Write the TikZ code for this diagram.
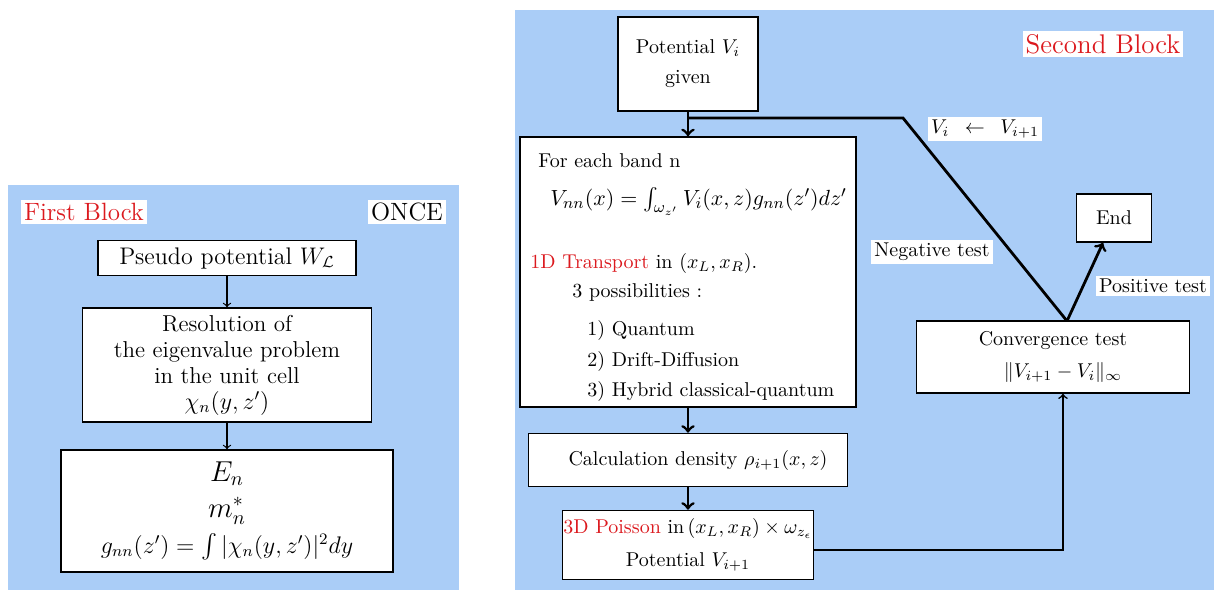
\documentclass[tikz,border=0pt]{standalone}
\usepackage{amsmath}
\usepackage{amssymb}
\usetikzlibrary{positioning, arrows}
\definecolor{panelblue}{RGB}{170,205,247}
\definecolor{blockred}{RGB}{220,25,30}
\tikzset{
	>=to, % plain arrow heads
	node distance=50pt, % distance between the centres of two nodes
	box/.style={draw, thick, fill=white, align=center, inner sep=2pt}, % every white box
	tag/.style={fill=white, inner sep=1.5pt}, % labels on white ground
	rowtext/.style={anchor=base west, inner sep=0pt}, % one line inside the band box
	loopline/.style={line width=1.4pt}, % the heavy lines of the second block
}

\begin{document}
\begin{tikzpicture}[x=0.5pt, y=-0.5pt]
	\useasboundingbox (0,0) rectangle (1216,590);
	% the two blocks
	\fill[panelblue] (8,185) rectangle (459,590);
	\fill[panelblue] (515,10) rectangle (1214,590);

	% first block
	\node[tag, font=\fontsize{12.5}{14}\selectfont, text=blockred] (first) at (84,212) {First Block};
	\node[tag, font=\fontsize{12.5}{14}\selectfont] (once) at (407,212) {ONCE};
	\node[box, minimum width=129pt, minimum height=17.5pt, font=\large] (pseudo) at (227,258) {Pseudo potential $W_{\mathcal{L}}$};
	\node[box, below of=pseudo, node distance=53.5pt, minimum width=144.5pt, minimum height=57pt, font=\fontsize{11.5}{13}\selectfont] (resol) {Resolution of\\ the eigenvalue problem\\ in the unit cell\\ $\chi_n(y,z')$};
	\node[box, below of=resol, node distance=73pt, minimum width=166pt, minimum height=61pt, font=\fontsize{12}{18}\selectfont] (eigen) {{\Large $E_n$}\\ {\Large $m_n^*$}\\ $g_{nn}(z')=\int|\chi_n(y,z')|^2dy$};
	\draw[->, semithick] (pseudo) -- (resol);
	\draw[->, semithick] (resol) -- (eigen);

	% second block
	\node[tag, font=\fontsize{13.5}{15}\selectfont, text=blockred] (second) at (1103,44) {Second Block};
	\node[box, minimum width=70pt, minimum height=47pt, font=\fontsize{10}{15}\selectfont] (pot) at (688,64) {Potential $V_i$\\ given};
	\node[box, below of=pot, node distance=104pt, minimum width=168pt, minimum height=135pt] (band) {};
	\node[rowtext] (each) at (538,167) {For each band n};
	\node[rowtext, font=\fontsize{11}{13}\selectfont] (vnn) at (550,205) {$V_{nn}(x)=\int_{\omega_{z'}}V_i(x,z)g_{nn}(z')dz'$};
	\node[rowtext] (trans) at (530,268) {{\color{blockred}1D Transport} in $(x_L,x_R)$.};
	\node[rowtext] (poss) at (572,297) {3 possibilities :};
	\node[rowtext] (quant) at (587,335) {1) Quantum};
	\node[rowtext] (drift) at (587,366) {2) Drift-Diffusion};
	\node[rowtext] (hybrid) at (587,396) {3) Hybrid classical-quantum};
	\node[box, below of=band, node distance=94pt, minimum width=159.5pt, minimum height=26.5pt] (calc) {\hspace*{10pt}Calculation density $\rho_{i+1}(x,z)$};
	\node[box, below of=calc, node distance=42.5pt, minimum width=121.5pt, minimum height=34.5pt, inner xsep=0.5pt, font=\fontsize{10}{16.5}\selectfont] (poisson) {{\color{blockred}3D Poisson} in\,$(x_L,x_R)\times\omega_{z_\epsilon}$\\ Potential $V_{i+1}$};
	\node[box, minimum width=136.5pt, minimum height=36pt, font=\fontsize{10}{16}\selectfont] (conv) at (1053,357) {Convergence test\\ \hspace*{10pt}$\|V_{i+1}-V_i\|_\infty$};
	\node[box, minimum width=37.5pt, minimum height=24pt] (end) at (1114,218) {End};

	% connectors
	\coordinate (join) at (688,118);
	\coordinate (corner) at (903,118);
	\coordinate (apex) at (1067,321);
	\draw[loopline, ->] (pot) -- (band);
	\draw[loopline] (join) -- (corner) -- (apex);
	\draw[loopline, ->] (apex) -- ([xshift=-5.5pt]end.south);
	\draw[loopline, ->] (band) -- (calc);
	\draw[loopline, ->] (calc) -- (poisson);
	\draw[->, thick] ([yshift=-2.5pt]poisson.east) -| ([xshift=5pt]conv.south);

	% labels on the lines
	\node[tag] (update) at (985,129) {$V_i\enspace\leftarrow\enspace V_{i+1}$};
	\node[tag] (neg) at (932,252) {Negative test};
	\node[tag] (pos) at (1153,286) {Positive test};
\end{tikzpicture}
\end{document}
